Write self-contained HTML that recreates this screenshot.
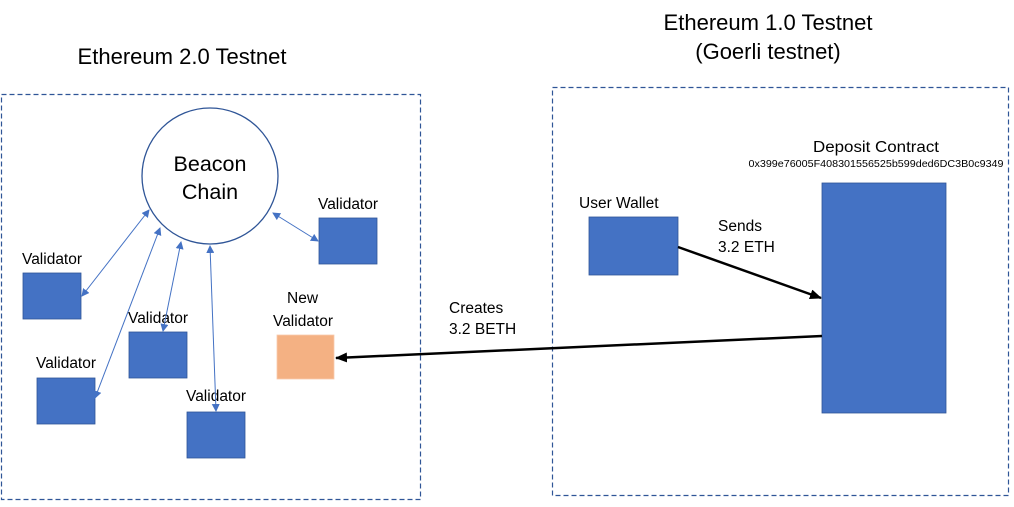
<!DOCTYPE html>
<html><head><meta charset="utf-8"><style>
body{margin:0;background:#fff}
svg text{font-family:"Liberation Sans",sans-serif;fill:#000}
</style></head><body>
<svg width="1014" height="502" viewBox="0 0 1014 502" xmlns="http://www.w3.org/2000/svg">
<defs>
<marker id="b" markerWidth="8" markerHeight="8" refX="7" refY="4" orient="auto-start-reverse" markerUnits="userSpaceOnUse"><path d="M0,0 L8,4 L0,8 z" fill="#4472c4"/></marker>
<marker id="k" markerWidth="12" markerHeight="10" refX="11" refY="5" orient="auto" markerUnits="userSpaceOnUse"><path d="M0,0 L12,5 L0,10 z" fill="#000"/></marker>
</defs>
<rect x="1.5" y="94.5" width="419" height="405" fill="none" stroke="#2f5597" stroke-width="1.2" stroke-dasharray="5,3"/>
<rect x="552.5" y="87.5" width="456" height="408" fill="none" stroke="#2f5597" stroke-width="1.2" stroke-dasharray="5,3"/>
<text x="182" y="64" font-size="22" text-anchor="middle" textLength="209" lengthAdjust="spacingAndGlyphs">Ethereum 2.0 Testnet</text>
<text x="768" y="30" font-size="22" text-anchor="middle" textLength="209" lengthAdjust="spacingAndGlyphs">Ethereum 1.0 Testnet</text>
<text x="768" y="59" font-size="22" text-anchor="middle">(Goerli testnet)</text>
<circle cx="210" cy="176" r="68" fill="#fff" stroke="#2f5597" stroke-width="1.3"/>
<text x="210" y="171" font-size="21.5" text-anchor="middle">Beacon</text>
<text x="210" y="199" font-size="21.5" text-anchor="middle">Chain</text>
<g fill="#4472c4" stroke="#2f5597" stroke-width="0.8">
<rect x="23" y="273" width="58" height="46"/>
<rect x="37" y="378" width="58" height="46"/>
<rect x="129" y="332" width="58" height="46"/>
<rect x="187" y="412" width="58" height="46"/>
<rect x="319" y="218" width="58" height="46"/>
<rect x="589" y="217" width="89" height="58"/>
<rect x="822" y="183" width="124" height="230"/>
</g>
<rect x="277" y="335" width="57" height="44" fill="#f4b183" stroke="#f8cbad" stroke-width="0.8"/>
<g font-size="15.5">
<text x="22" y="264">Validator</text>
<text x="36" y="368">Validator</text>
<text x="128" y="323">Validator</text>
<text x="186" y="401">Validator</text>
<text x="318" y="209">Validator</text>
<text x="287" y="303">New</text>
<text x="273" y="326">Validator</text>
<text x="579" y="208">User Wallet</text>
<text x="876" y="152" text-anchor="middle" textLength="126" lengthAdjust="spacingAndGlyphs">Deposit Contract</text>
<text x="718" y="231">Sends</text>
<text x="718" y="252">3.2 ETH</text>
<text x="449" y="313">Creates</text>
<text x="449" y="334">3.2 BETH</text>
</g>
<text x="876" y="167" font-size="10.5" text-anchor="middle" textLength="255" lengthAdjust="spacingAndGlyphs">0x399e76005F408301556525b599ded6DC3B0c9349</text>
<g stroke="#4472c4" stroke-width="1" marker-start="url(#b)" marker-end="url(#b)">
<line x1="149" y1="210" x2="82" y2="296"/>
<line x1="160" y1="228" x2="95" y2="398"/>
<line x1="181" y1="242" x2="163" y2="331"/>
<line x1="210" y1="246" x2="216" y2="411"/>
<line x1="273" y1="213" x2="318" y2="241"/>
</g>
<line x1="678" y1="247" x2="821" y2="298" stroke="#000" stroke-width="2.5" marker-end="url(#k)"/>
<line x1="822" y1="336" x2="336" y2="358" stroke="#000" stroke-width="2.5" marker-end="url(#k)"/>
</svg>
</body></html>
